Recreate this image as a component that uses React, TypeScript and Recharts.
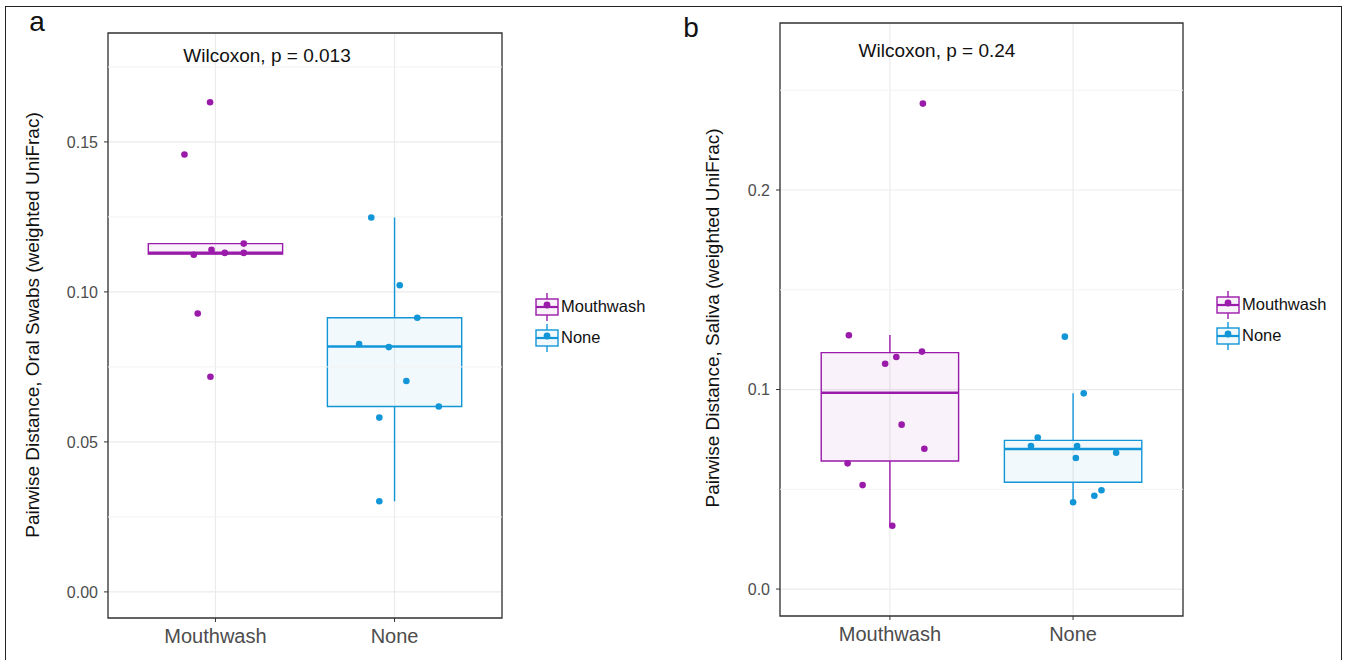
import React from 'react';
import { ScatterChart, Scatter, XAxis, YAxis, CartesianGrid, ReferenceArea, ReferenceLine } from 'recharts';

const CATEGORIES = ['Mouthwash', 'None'];

// jittered points: offset from the group position, pairwise distance
const swabMouthwash = [
  { jitter: -0.03, value: 0.1632 }, { jitter: -0.173, value: 0.1458 }, { jitter: 0.158, value: 0.1161 },
  { jitter: -0.022, value: 0.114 }, { jitter: -0.121, value: 0.1124 }, { jitter: 0.052, value: 0.113 },
  { jitter: 0.158, value: 0.113 }, { jitter: -0.099, value: 0.0928 }, { jitter: -0.028, value: 0.0717 },
];
const swabNone = [
  { jitter: -0.13, value: 0.1248 }, { jitter: 0.029, value: 0.1022 }, { jitter: 0.127, value: 0.0914 },
  { jitter: -0.198, value: 0.0826 }, { jitter: -0.032, value: 0.0816 }, { jitter: 0.066, value: 0.0703 },
  { jitter: 0.247, value: 0.0618 }, { jitter: -0.085, value: 0.0581 }, { jitter: -0.085, value: 0.0302 },
];
const salivaMouthwash = [
  { jitter: -0.224, value: 0.1272 }, { jitter: 0.035, value: 0.1163 }, { jitter: -0.026, value: 0.1129 },
  { jitter: 0.175, value: 0.119 }, { jitter: 0.064, value: 0.0824 }, { jitter: 0.188, value: 0.0703 },
  { jitter: -0.231, value: 0.063 }, { jitter: -0.149, value: 0.0521 }, { jitter: 0.013, value: 0.0317 },
  { jitter: 0.18, value: 0.2433 },
];
const salivaNone = [
  { jitter: -0.045, value: 0.1265 }, { jitter: 0.058, value: 0.0981 }, { jitter: -0.193, value: 0.0759 },
  { jitter: -0.23, value: 0.0717 }, { jitter: 0.022, value: 0.0717 }, { jitter: 0.235, value: 0.0683 },
  { jitter: 0.015, value: 0.0657 }, { jitter: 0.155, value: 0.0495 }, { jitter: 0.116, value: 0.0468 },
  { jitter: 0, value: 0.0435 },
];

// box stats per group (Mouthwash, None)
const swabBoxes = [
  { lower: 0.1124, q1: 0.1126, median: 0.113, q3: 0.1161, upper: 0.1161 },
  { lower: 0.0302, q1: 0.0618, median: 0.0818, q3: 0.0914, upper: 0.1248 },
];
const salivaBoxes = [
  { lower: 0.0317, q1: 0.0642, median: 0.0984, q3: 0.1185, upper: 0.1273 },
  { lower: 0.0435, q1: 0.0535, median: 0.0702, q3: 0.0745, upper: 0.0981 },
];

const swabTicks = [0, 0.05, 0.1, 0.15];
const swabMinor = [0.025, 0.075, 0.125, 0.175];
const salivaTicks = [0, 0.1, 0.2];
const salivaMinor = [0.05, 0.15, 0.25];

const COLORS = ['#9a1aaa', '#1296d8'];
const FONT = '"Liberation Sans", Arial, sans-serif';

const toXY = (pts: { jitter: number; value: number }[], group: number) =>
  pts.map((p) => ({ x: group + p.jitter, y: p.value }));

type Box = { lower: number; q1: number; median: number; q3: number; upper: number };

interface PanelProps {
  left: number;
  width: number;
  top: number;
  plotLeft: number;
  plotRight: number;
  plotTop: number;
  plotBottom: number;
  domain: [number, number];
  ticks: number[];
  minor: number[];
  digits: number;
  boxes: Box[];
  points: { jitter: number; value: number }[][];
}

const Panel: React.FC<PanelProps> = (p) => {
  const H = 660;
  const yAxisW = 60;
  const xAxisH = 40;
  return (
    <div style={{ position: 'absolute', left: p.left, top: p.top }}>
      <ScatterChart
        width={p.width}
        height={H}
        margin={{ top: p.plotTop, right: p.width - p.plotRight, bottom: H - p.plotBottom - xAxisH, left: p.plotLeft - yAxisW }}
      >
        <CartesianGrid stroke="#ebebeb" strokeWidth={1.2} verticalPoints={undefined} />
        {p.minor.map((v) => (
          <ReferenceLine key={v} y={v} stroke="#f2f2f2" strokeWidth={1} />
        ))}
        <XAxis
          type="number"
          dataKey="x"
          domain={[0.4, 2.6]}
          ticks={[1, 2]}
          allowDataOverflow
          height={xAxisH}
          tickFormatter={(v: number) => CATEGORIES[Math.round(v) - 1]}
          tick={{ fill: '#4d4d4d', fontSize: 20, fontFamily: FONT }}
          tickSize={4}
          tickMargin={7}
          tickLine={{ stroke: '#333' }}
          axisLine={false}
        />
        <YAxis
          type="number"
          dataKey="y"
          domain={p.domain}
          ticks={p.ticks}
          allowDataOverflow
          width={yAxisW}
          tickFormatter={(v: number) => v.toFixed(p.digits)}
          tick={{ fill: '#4d4d4d', fontSize: 16, fontFamily: FONT }}
          tickSize={4}
          tickMargin={6}
          tickLine={{ stroke: '#333' }}
          axisLine={false}
        />
        {p.boxes.map((b, i) => {
          const g = i + 1;
          return (
            <React.Fragment key={`box-${i}`}>
              <ReferenceLine segment={[{ x: g, y: b.q3 }, { x: g, y: b.upper }]} stroke={COLORS[i]} strokeWidth={1.4} />
              <ReferenceLine segment={[{ x: g, y: b.lower }, { x: g, y: b.q1 }]} stroke={COLORS[i]} strokeWidth={1.4} />
              <ReferenceArea x1={g - 0.375} x2={g + 0.375} y1={b.q1} y2={b.q3} fill={COLORS[i]} fillOpacity={0.06} stroke={COLORS[i]} strokeWidth={1.4} />
              <ReferenceLine segment={[{ x: g - 0.375, y: b.median }, { x: g + 0.375, y: b.median }]} stroke={COLORS[i]} strokeWidth={2.6} />
            </React.Fragment>
          );
        })}
        {p.points.map((pts, i) => (
          <Scatter
            key={`pts-${i}`}
            data={toXY(pts, i + 1)}
            fill={COLORS[i]}
            isAnimationActive={false}
            shape={(s: any) => <circle cx={s.cx} cy={s.cy} r={3.3} fill={COLORS[i]} />}
          />
        ))}
        <ReferenceArea x1={0.4} x2={2.6} y1={p.domain[0]} y2={p.domain[1]} fill="none" stroke="#333" strokeWidth={1.3} />
      </ScatterChart>
    </div>
  );
};

const LegendKey: React.FC<{ color: string }> = ({ color }) => (
  <svg width={26} height={28} style={{ display: 'block' }}>
    <line x1={13} y1={0} x2={13} y2={28} stroke={color} strokeWidth={1.4} />
    <rect x={2} y={6} width={22} height={16} fill="#fff" stroke={color} strokeWidth={1.4} />
    <rect x={2} y={6} width={22} height={16} fill={color} fillOpacity={0.06} />
    <line x1={2} y1={14} x2={24} y2={14} stroke={color} strokeWidth={2.2} />
    <circle cx={13} cy={12} r={3.4} fill={color} />
  </svg>
);

const Legend: React.FC<{ left: number; top: number }> = ({ left, top }) => (
  <div style={{ position: 'absolute', left, top, fontFamily: FONT, fontSize: 16.5, color: '#111' }}>
    {CATEGORIES.map((c, i) => (
      <div key={c} style={{ display: 'flex', alignItems: 'center', height: 31 }}>
        <LegendKey color={COLORS[i]} />
        <span style={{ marginLeft: 1 }}>{c}</span>
      </div>
    ))}
  </div>
);

const Text: React.FC<{ x: number; y: number; size: number; children: React.ReactNode; rotate?: boolean; weight?: number }> = ({ x, y, size, children, rotate, weight }) => (
  <div
    style={{
      position: 'absolute',
      left: x,
      top: y,
      transform: `translate(-50%, -50%)${rotate ? ' rotate(-90deg)' : ''}`,
      whiteSpace: 'nowrap',
      fontFamily: FONT,
      fontSize: size,
      fontWeight: weight ?? 400,
      color: '#111',
      lineHeight: 1,
    }}
  >
    {children}
  </div>
);

export default function App() {
  return (
    <div style={{ position: 'absolute', left: 0, top: 0, width: 1345, height: 660, background: '#fff', overflow: 'hidden' }}>
      <div style={{ position: 'absolute', left: 5, top: 6, width: 1337, height: 660, border: '1.5px solid #222', boxSizing: 'border-box' }} />
      <Panel
        left={0}
        top={0}
        width={520}
        plotLeft={108}
        plotRight={502}
        plotTop={33}
        plotBottom={618}
        domain={[-0.0087, 0.1863]}
        ticks={swabTicks}
        minor={swabMinor}
        digits={2}
        boxes={swabBoxes}
        points={[swabMouthwash, swabNone]}
      />
      <Panel
        left={660}
        top={0}
        width={540}
        plotLeft={120}
        plotRight={523}
        plotTop={23}
        plotBottom={616}
        domain={[-0.0135, 0.2837]}
        ticks={salivaTicks}
        minor={salivaMinor}
        digits={1}
        boxes={salivaBoxes}
        points={[salivaMouthwash, salivaNone]}
      />
      <Text x={37} y={22} size={28} weight={300}>a</Text>
      <Text x={691} y={28} size={28} weight={300}>b</Text>
      <Text x={267} y={55} size={19}>Wilcoxon, p = 0.013</Text>
      <Text x={937} y={50} size={19}>Wilcoxon, p = 0.24</Text>
      <Text x={32} y={325} size={19} rotate>Pairwise Distance, Oral Swabs (weighted UniFrac)</Text>
      <Text x={712} y={318} size={19} rotate>Pairwise Distance, Saliva (weighted UniFrac)</Text>
      <Legend left={534} top={291} />
      <Legend left={1215} top={289} />
    </div>
  );
}
